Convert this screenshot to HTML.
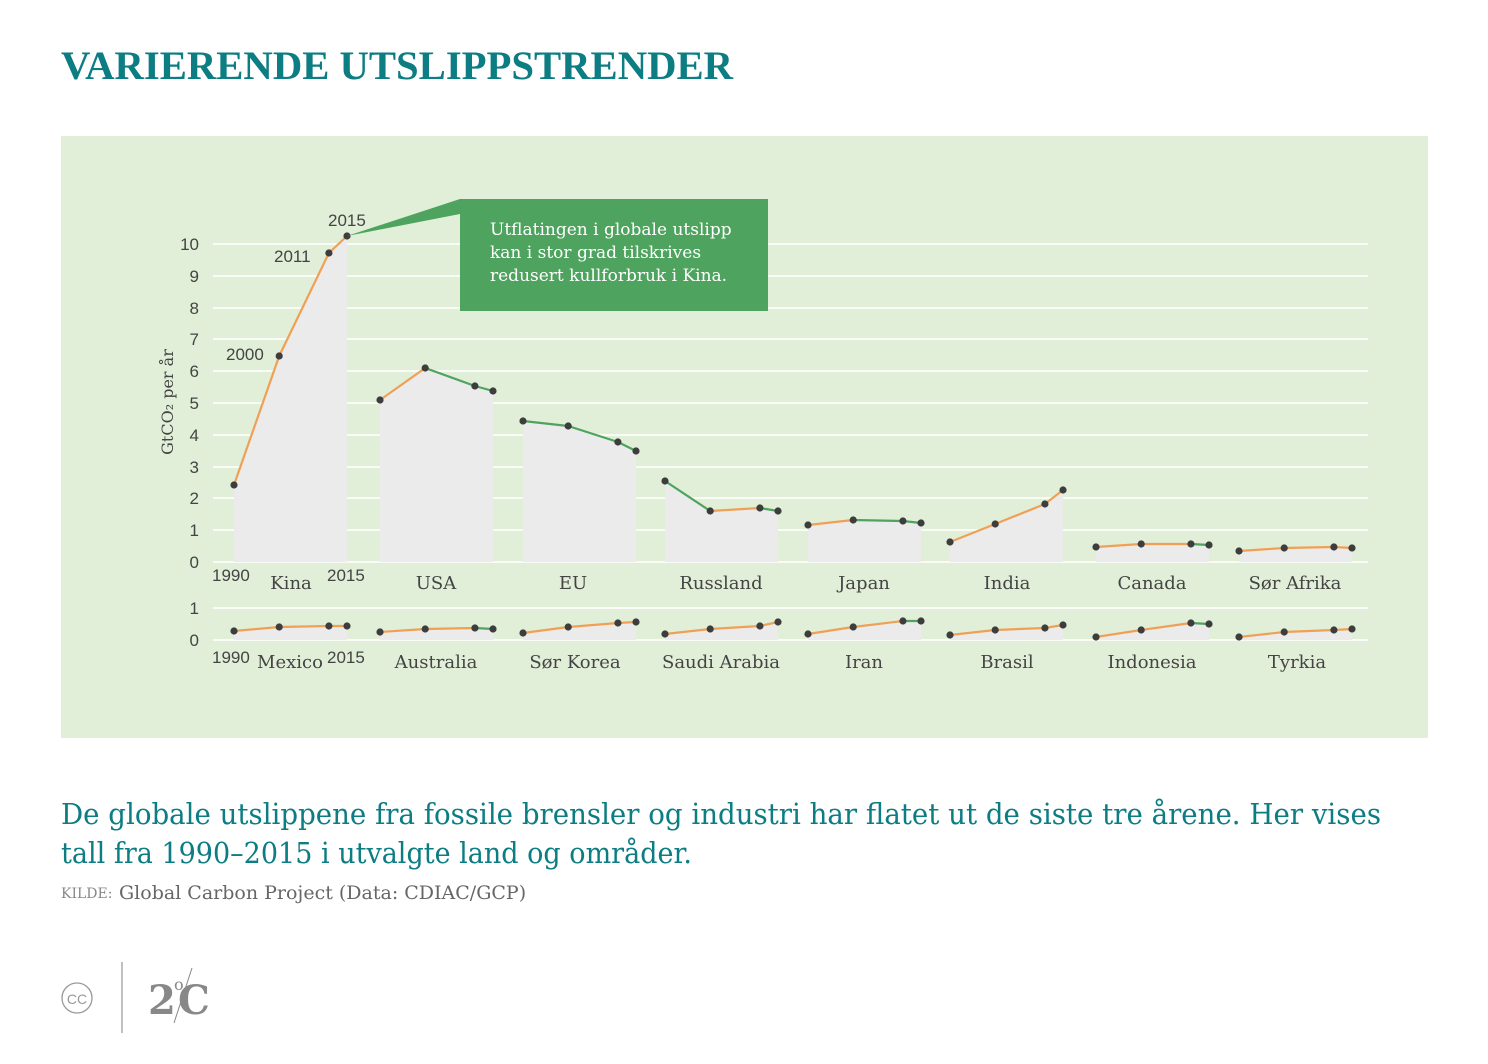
<!DOCTYPE html>
<html><head><meta charset="utf-8"><style>
body{margin:0;width:1488px;height:1064px;background:#fff;overflow:hidden;font-family:"DejaVu Serif","Liberation Serif",serif}
svg{position:absolute;left:0;top:0}
</style></head><body>
<svg width="1488" height="1064" xmlns="http://www.w3.org/2000/svg">
<text x="61" y="79" font-family="Liberation Serif, serif" font-weight="bold" font-size="40" fill="#0b7d83" textLength="672" lengthAdjust="spacingAndGlyphs">VARIERENDE UTSLIPPSTRENDER</text>
<rect x="61" y="136" width="1367" height="602" fill="#e2efd8"/>
<g stroke="#fff" stroke-width="1.5">
<line x1="213" x2="1368" y1="244" y2="244"/><line x1="213" x2="1368" y1="276" y2="276"/><line x1="213" x2="1368" y1="308" y2="308"/><line x1="213" x2="1368" y1="339" y2="339"/><line x1="213" x2="1368" y1="371" y2="371"/><line x1="213" x2="1368" y1="403" y2="403"/><line x1="213" x2="1368" y1="435" y2="435"/><line x1="213" x2="1368" y1="467" y2="467"/><line x1="213" x2="1368" y1="498" y2="498"/><line x1="213" x2="1368" y1="530" y2="530"/><line x1="213" x2="1368" y1="562" y2="562"/>
<line x1="213" x2="1368" y1="608" y2="608"/><line x1="213" x2="1368" y1="640" y2="640"/>
</g>
<g font-family="Liberation Sans, sans-serif" font-size="17" fill="#444" text-anchor="end">
<text x="199" y="250">10</text><text x="199" y="282">9</text><text x="199" y="314">8</text><text x="199" y="345">7</text><text x="199" y="377">6</text><text x="199" y="409">5</text><text x="199" y="441">4</text><text x="199" y="473">3</text><text x="199" y="504">2</text><text x="199" y="536">1</text><text x="199" y="568">0</text>
<text x="199" y="614">1</text><text x="199" y="646">0</text>
</g>
<text transform="translate(173,402) rotate(-90)" text-anchor="middle" font-size="16" fill="#444">GtCO₂ per år</text>
<g id="charts"></g>
<polygon points="347,236 460,199 460,214" fill="#4ea35e"/>
<rect x="460" y="199" width="308" height="112" fill="#4ea35e"/>
<g font-size="17" fill="#fff"><text x="490" y="235">Utflatingen i globale utslipp</text><text x="490" y="258">kan i stor grad tilskrives</text><text x="490" y="281">redusert kullforbruk i Kina.</text></g>
<g font-family="Liberation Sans, sans-serif" font-size="17" fill="#444">
<text x="328" y="226">2015</text><text x="274" y="262">2011</text><text x="226" y="360">2000</text>
<text x="212" y="581">1990</text><text x="327" y="581">2015</text>
<text x="212" y="663">1990</text><text x="327" y="663">2015</text>
</g>
<g font-size="18" fill="#444" text-anchor="middle">
<text x="291" y="589">Kina</text><text x="436" y="589">USA</text><text x="573" y="589">EU</text><text x="721" y="589">Russland</text><text x="864" y="589">Japan</text><text x="1007" y="589">India</text><text x="1152" y="589">Canada</text><text x="1295" y="589">Sør Afrika</text>
<text x="290" y="668">Mexico</text><text x="436" y="668">Australia</text><text x="575" y="668">Sør Korea</text><text x="721" y="668">Saudi Arabia</text><text x="864" y="668">Iran</text><text x="1007" y="668">Brasil</text><text x="1152" y="668">Indonesia</text><text x="1297" y="668">Tyrkia</text>
</g>
<text x="61" y="824" font-size="29" fill="#0b7d83" textLength="1320" lengthAdjust="spacingAndGlyphs">De globale utslippene fra fossile brensler og industri har flatet ut de siste tre årene. Her vises</text>
<text x="61" y="863" font-size="29" fill="#0b7d83" textLength="631" lengthAdjust="spacingAndGlyphs">tall fra 1990–2015 i utvalgte land og områder.</text>
<text x="61" y="898" font-size="14" fill="#888">KILDE:</text>
<text x="119" y="899" font-size="19" fill="#666">Global Carbon Project (Data: CDIAC/GCP)</text>
<circle cx="77" cy="998" r="15" fill="none" stroke="#999" stroke-width="1.3"/>
<text x="77" y="1004" font-family="Liberation Sans, sans-serif" font-size="14" fill="#999" text-anchor="middle">CC</text>
<line x1="122" y1="962" x2="122" y2="1033" stroke="#aaa" stroke-width="1.5"/>
<text x="148" y="1014" font-size="40" font-weight="bold" fill="#888">2</text>
<text x="174" y="990" font-size="16" fill="#888">o</text>
<text x="178" y="1014" font-size="40" font-weight="bold" fill="#888">C</text>
<line x1="174" y1="1023" x2="192" y2="968" stroke="#888" stroke-width="1"/>
</svg>
<script>
var xs=[234,380,523,665,808,950,1096,1239],w=113;
var topD=[[485,356,253,236,'ooo'],[400,368,386,391,'ogg'],[421,426,442,451,'ggg'],[481,511,508,511,'gog'],[525,520,521,523,'ogg'],[542,524,504,490,'ooo'],[547,544,544,545,'oog'],[551,548,547,548,'ooo']];
var botD=[[631,627,626,626,'ooo'],[632,629,628,629,'oog'],[633,627,623,622,'ooo'],[634,629,626,622,'ooo'],[634,627,621,621,'oog'],[635,630,628,625,'ooo'],[637,630,623,624,'oog'],[637,632,630,629,'ooo']];
var fr=[0,0.4,0.84,1],s='';
function draw(d,x0,base){var px=fr.map(function(t){return x0+t*w});
 s+='<polygon fill="#ebebeb" points="'+px[0]+','+base+' '+px.map(function(x,i){return x+','+d[i]}).join(' ')+' '+px[3]+','+base+'"/>';
 for(var i=0;i<3;i++)s+='<line x1="'+px[i]+'" y1="'+d[i]+'" x2="'+px[i+1]+'" y2="'+d[i+1]+'" stroke="'+(d[4][i]=='o'?'#f0a055':'#4ea35e')+'" stroke-width="2.2"/>';
 for(var i=0;i<4;i++)s+='<circle cx="'+px[i]+'" cy="'+d[i]+'" r="3.6" fill="#3d3d3d"/>';}
for(var k=0;k<8;k++){draw(topD[k],xs[k],562);draw(botD[k],xs[k],640);}
document.getElementById('charts').innerHTML=s;
</script>
</body></html>
